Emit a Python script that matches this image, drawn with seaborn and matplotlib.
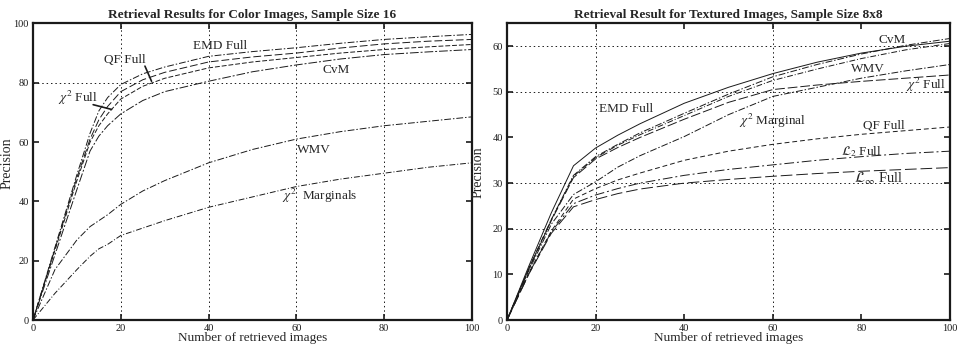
import pandas as pd
import matplotlib
matplotlib.use("Agg")
import matplotlib.pyplot as plt
import seaborn as sns

# ---- left panel: colour images, sample size 16 ----
x_col = [0, 5, 10, 13, 15, 17, 20, 25, 30, 40, 50, 60, 70, 80, 90, 100]
emd_col = [0, 24.5, 49, 63, 70.5, 75, 79.4, 83, 85.3, 88.9, 90.5, 91.8, 93.3, 94.6, 95.5, 96.3]
qf_col = [0, 24, 48, 61, 67.5, 72, 77, 81, 83.5, 87, 88.7, 90, 91.7, 93.1, 94, 94.6]
chi_col = [0, 23.5, 47, 60, 65.5, 69.5, 74.5, 78.8, 81.5, 85, 87, 88.5, 90, 91.2, 92.1, 92.9]
cvm_col = [0, 22, 44, 57, 62, 65.5, 69.5, 74, 77, 80.5, 83.7, 86, 88, 89.5, 90.4, 91.2]
wmv_col = [0, 17, 27, 31.5, 33.5, 35.5, 39, 43.5, 47, 53, 57.5, 61, 63.5, 65.5, 67, 68.5]
chim_col = [0, 9, 17, 21.5, 24, 25.5, 28.5, 31, 33.5, 38, 41.5, 45, 47.5, 49.5, 51.5, 53]

# ---- right panel: textured images, sample size 8x8 ----
x_tex = [0, 5, 10, 15, 20, 25, 30, 40, 50, 60, 70, 80, 90, 100]
emd_tex = [0, 12, 23.5, 33.8, 37.7, 40.5, 43, 47.5, 51, 54, 56.5, 58.5, 60, 61.1]
cvm_tex = [0, 11.5, 22, 31.7, 35.8, 38.5, 41, 45.3, 49.5, 53.3, 56, 58.3, 60.2, 61.7]
wmv_tex = [0, 11.5, 22, 31.5, 35.6, 38.3, 40.6, 44.8, 49, 52.5, 55, 57.3, 59.2, 60.6]
chi_tex = [0, 11.3, 21.8, 31.2, 35.3, 37.8, 40, 44, 47.7, 50.5, 51.5, 52.3, 53, 53.7]
chim_tex = [0, 11, 21, 27.5, 30.3, 33.5, 36, 40.2, 45, 49, 51, 53, 54.6, 56]
qf_tex = [0, 10.5, 19.5, 26.5, 28.8, 30.7, 32.2, 35, 37, 38.5, 39.7, 40.7, 41.5, 42.3]
l2_tex = [0, 10.3, 19.3, 25.5, 27.4, 28.8, 30, 31.7, 33, 34, 35, 35.8, 36.5, 37.0]
linf_tex = [0, 10.2, 19, 24.8, 26.4, 27.7, 28.7, 30, 30.8, 31.5, 32.1, 32.6, 33.0, 33.4]

sns.set_style("ticks")
plt.rcParams["font.family"] = ["Liberation Serif", "DejaVu Serif"]
plt.rcParams["mathtext.fontset"] = "stix"

fig = plt.figure(figsize=(9.68, 3.51), dpi=100)
ax1 = fig.add_axes([0.0341, 0.0883, 0.4535, 0.845])
ax2 = fig.add_axes([0.5238, 0.0883, 0.4576, 0.845])

ink = "#1a1a1a"
lw = 0.7
dashdot = (0, (7, 2, 1.5, 2))
longdash = (0, (8, 3))

df_col = pd.DataFrame({"x": x_col, "EMD": emd_col, "QF": qf_col, "CHI": chi_col,
                       "CvM": cvm_col, "WMV": wmv_col, "CHIM": chim_col})
styles_col = {"EMD": dashdot, "QF": longdash, "CHI": (0, (5, 2)),
              "CvM": (0, (9, 2, 2, 2)), "WMV": dashdot, "CHIM": (0, (6, 2, 1, 2))}
for name, ls in styles_col.items():
    sns.lineplot(data=df_col, x="x", y=name, ax=ax1, color=ink, lw=lw, linestyle=ls)

df_tex = pd.DataFrame({"x": x_tex, "EMD": emd_tex, "CvM": cvm_tex, "WMV": wmv_tex,
                       "CHI": chi_tex, "CHIM": chim_tex, "QF": qf_tex,
                       "L2": l2_tex, "LINF": linf_tex})
styles_tex = {"EMD": "-", "CvM": dashdot, "WMV": (0, (6, 2, 1, 2)), "CHI": (0, (10, 3)),
              "CHIM": (0, (7, 2, 1.5, 2)), "QF": (0, (5, 3)), "L2": (0, (10, 3, 2, 3)),
              "LINF": (0, (12, 4))}
for name, ls in styles_tex.items():
    sns.lineplot(data=df_tex, x="x", y=name, ax=ax2, color=ink, lw=lw, linestyle=ls)

grid_kw = dict(color=ink, lw=0.7, linestyle=(0, (1.5, 3)), zorder=0)
for v in [20, 40, 60, 80]:
    ax1.axvline(v, **grid_kw)
ax1.axhline(80, **grid_kw)
for v in [20, 60]:
    ax2.axvline(v, **grid_kw)
for v in [20, 30, 50, 60]:
    ax2.axhline(v, **grid_kw)

for ax, ymax, yt, title in [
    (ax1, 100, range(0, 101, 20), "Retrieval Results for Color Images, Sample Size 16"),
    (ax2, 65, range(0, 61, 10), "Retrieval Result for Textured Images, Sample Size 8x8"),
]:
    ax.set_xlim(0, 100)
    ax.set_ylim(0, ymax)
    ax.set_xticks(range(0, 101, 20))
    ax.set_yticks(list(yt))
    ax.tick_params(direction="in", length=4, width=1.2, labelsize=7.5,
                   top=True, right=True, pad=3, colors=ink)
    for s in ax.spines.values():
        s.set_linewidth(1.6)
        s.set_color(ink)
    ax.set_xlabel("Number of retrieved images", fontsize=9.5, labelpad=-1)
    ax.set_ylabel("Precision", fontsize=10, labelpad=1)
    ax.set_title(title, fontsize=9.5, fontweight="bold", pad=4)

ax1.yaxis.set_label_coords(-0.045, 0.53)
ax2.yaxis.set_label_coords(-0.05, 0.5)

fs = 9.5
# left labels
ax1.text(42.6, 92.5, "EMD Full", fontsize=fs, ha="center", va="center")
ax1.text(20.8, 87.5, "QF Full", fontsize=fs, ha="center", va="center")
ax1.plot([25.5, 27], [85.6, 80.5], color=ink, lw=1.2)
ax1.text(10.3, 75, r"$\chi^2$ Full", fontsize=fs, ha="center", va="center")
ax1.plot([13.7, 17.9], [72.6, 71], color=ink, lw=1.2)
ax1.text(69, 84.4, "CvM", fontsize=fs, ha="center", va="center")
ax1.text(64, 57.4, "WMV", fontsize=fs, ha="center", va="center")
ax1.text(65.4, 41.7, r"$\chi^2$  Marginals", fontsize=fs, ha="center", va="center")

# right labels
ax2.text(26.8, 46.2, "EMD Full", fontsize=fs, ha="center", va="center")
ax2.text(60, 43.6, r"$\chi^2$ Marginal", fontsize=fs, ha="center", va="center")
ax2.text(87, 61.4, "CvM", fontsize=fs, ha="center", va="center")
ax2.text(81.5, 55, "WMV", fontsize=fs, ha="center", va="center")
ax2.text(94.5, 51.5, r"$\chi^2$ Full", fontsize=fs, ha="center", va="center")
ax2.text(85, 42.5, "QF Full", fontsize=fs, ha="center", va="center")
ax2.text(80, 36.8, r"$\mathcal{L}_2$ Full", fontsize=fs, ha="center", va="center")
ax2.text(84, 31, r"$\mathcal{L}_\infty$ Full", fontsize=fs + 1, ha="center", va="center")

fig.savefig("out.png", dpi=100, facecolor="white")
